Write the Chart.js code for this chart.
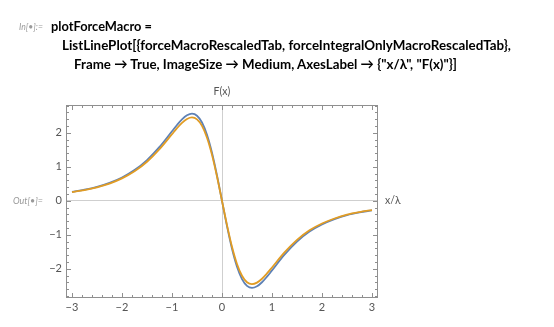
<!DOCTYPE html>
<html>
<head>
<meta charset="utf-8">
<script src="https://cdn.jsdelivr.net/npm/chart.js@4"></script>
<style>
  body { margin: 0; background: #fff; }
  #wrap { position: absolute; left: 0; top: 0; width: 554px; height: 327px; }
  .code { position: absolute; font-family: Lato, sans-serif; font-weight: bold; font-size: 14px; line-height: 1.2; color: #000; white-space: nowrap; transform-origin: 0 0; }
  .lbl { position: absolute; font-family: Lato, sans-serif; font-style: italic; font-size: 10px; color: #9a9a9a; white-space: nowrap; transform-origin: 0 0; }
</style>
</head>
<body>
<div id="wrap"><canvas id="myChart"></canvas></div>
<div class="lbl" style="left:19px;top:20px" data-w="24">In[•]:=</div>
<div class="code" style="left:51px;top:18px" data-w="101">plotForceMacro =</div>
<div class="code" style="left:62px;top:37px" data-w="449">ListLinePlot[{forceMacroRescaledTab, forceIntegralOnlyMacroRescaledTab},</div>
<div class="code" style="left:74px;top:56px" data-w="383">Frame → True, ImageSize → Medium, AxesLabel → {"x/λ", "F(x)"}]</div>
<div class="lbl" style="left:13px;top:194px" data-w="30">Out[•]=</div>
<script>
// x/λ samples and the two force curves
var xs = [-3, -2.75, -2.5, -2.25, -2, -1.75, -1.5, -1.25, -1, -0.9, -0.8, -0.7, -0.6, -0.5, -0.4, -0.3, -0.2, -0.1, 0,
          0.1, 0.2, 0.3, 0.4, 0.5, 0.6, 0.7, 0.8, 0.9, 1, 1.25, 1.5, 1.75, 2, 2.25, 2.5, 2.75, 3];
var forceMacro = [0.265, 0.328, 0.412, 0.528, 0.687, 0.904, 1.199, 1.586, 2.048, 2.232, 2.396, 2.516, 2.564, 2.504, 2.305, 1.942, 1.413, 0.746, 0,
          -0.746, -1.413, -1.942, -2.305, -2.504, -2.564, -2.516, -2.396, -2.232, -2.048, -1.586, -1.199, -0.904, -0.695, -0.54, -0.42, -0.34, -0.28];
var forceIntegralOnly = [0.258, 0.318, 0.398, 0.508, 0.66, 0.868, 1.15, 1.52, 1.962, 2.138, 2.294, 2.408, 2.454, 2.397, 2.206, 1.858, 1.352, 0.714, 0,
          -0.714, -1.352, -1.858, -2.206, -2.397, -2.454, -2.408, -2.294, -2.138, -1.962, -1.52, -1.15, -0.868, -0.668, -0.52, -0.406, -0.33, -0.272];
var xTicks = [-3, -2, -1, 0, 1, 2, 3];
var yTicks = [-2, -1, 0, 1, 2];

function pts(ys) {
  return xs.map(function (x, i) { return {x: x, y: ys[i]}; });
}

function minus(v) {
  return v < 0 ? '\u2212' + Math.abs(v) : String(v);
}

var frameColor = '#8f8f8f';

// Mathematica style frame: inward major/minor ticks on all 4 sides + axes labels
var frameTicks = {
  id: 'frameTicks',
  afterDraw: function (chart) {
    var ctx = chart.ctx, a = chart.chartArea, sx = chart.scales.x, sy = chart.scales.y;
    var L = Math.round(a.left) + 0.5, R = Math.round(a.right) - 0.5;
    var T = Math.round(a.top) + 0.5, B = Math.round(a.bottom) - 0.5;
    ctx.save();
    ctx.strokeStyle = frameColor;
    ctx.lineWidth = 1;
    ctx.strokeRect(L, T, R - L, B - T);
    ctx.beginPath();
    for (var i = -15; i <= 15; i++) {
      var px = Math.round(sx.getPixelForValue(i / 5)) + 0.5;
      var len = (i % 5 === 0) ? 4.5 : 2.5;
      ctx.moveTo(px, B); ctx.lineTo(px, B - len);
      ctx.moveTo(px, T); ctx.lineTo(px, T + len);
    }
    for (var j = -14; j <= 14; j++) {
      var py = Math.round(sy.getPixelForValue(j / 5)) + 0.5;
      var len2 = (j % 5 === 0) ? 4.5 : 2.5;
      ctx.moveTo(L, py); ctx.lineTo(L + len2, py);
      ctx.moveTo(R, py); ctx.lineTo(R - len2, py);
    }
    ctx.stroke();
    ctx.fillStyle = '#555';
    ctx.font = '10.5px Lato, sans-serif';
    ctx.textBaseline = 'middle';
    ctx.textAlign = 'center';
    ctx.fillText('F(x)', sx.getPixelForValue(0), a.top - 13);
    ctx.textAlign = 'left';
    ctx.fillText('x/\u03bb', a.right + 7, sy.getPixelForValue(0));
    ctx.restore();
  }
};

var ctx = document.getElementById('myChart').getContext('2d');
var myChart = new Chart(ctx, {
  type: 'line',
  data: {
    datasets: [{
      label: 'forceMacroRescaledTab',
      data: pts(forceMacro),
      borderColor: '#5e81b5',
      borderWidth: 1.8,
      pointRadius: 0,
      cubicInterpolationMode: 'monotone',
      order: 1
    },
    {
      label: 'forceIntegralOnlyMacroRescaledTab',
      data: pts(forceIntegralOnly),
      borderColor: '#e19c24',
      borderWidth: 1.8,
      pointRadius: 0,
      cubicInterpolationMode: 'monotone',
      order: 0
    }]
  },
  options: {
    responsive: true,
    maintainAspectRatio: false,
    animation: false,
    layout: { padding: { left: 36, top: 105, right: 176, bottom: 7 } },
    plugins: { legend: { display: false }, tooltip: { enabled: false } },
    scales: {
      x: {
        type: 'linear',
        min: -3.12,
        max: 3.12,
        afterFit: function (s) { s.height = 22; },
        border: { display: false },
        grid: {
          drawTicks: false,
          color: function (c) { return c.tick && c.tick.value === 0 ? '#cfcfcf' : 'rgba(0,0,0,0)'; }
        },
        ticks: {
          stepSize: 1,
          includeBounds: false,
          padding: 3,
          color: '#555',
          font: { family: 'Lato', size: 11 },
          maxRotation: 0,
          callback: function (v) { return xTicks.indexOf(v) >= 0 ? minus(v) : null; }
        }
      },
      y: {
        type: 'linear',
        min: -2.86,
        max: 2.82,
        afterFit: function (s) { s.width = 30; },
        border: { display: false },
        grid: {
          drawTicks: false,
          color: function (c) { return c.tick && c.tick.value === 0 ? '#cfcfcf' : 'rgba(0,0,0,0)'; }
        },
        ticks: {
          stepSize: 1,
          includeBounds: false,
          padding: 4,
          color: '#555',
          font: { family: 'Lato', size: 11 },
          callback: function (v) { return yTicks.indexOf(v) >= 0 ? minus(v) : null; }
        }
      }
    }
  },
  plugins: [frameTicks]
});

// squeeze code lines to the widths they have in the notebook
document.querySelectorAll('[data-w]').forEach(function (el) {
  var w = el.getBoundingClientRect().width;
  el.style.transform = 'scaleX(' + (parseFloat(el.dataset.w) / w) + ')';
});
</script>
</body>
</html>
